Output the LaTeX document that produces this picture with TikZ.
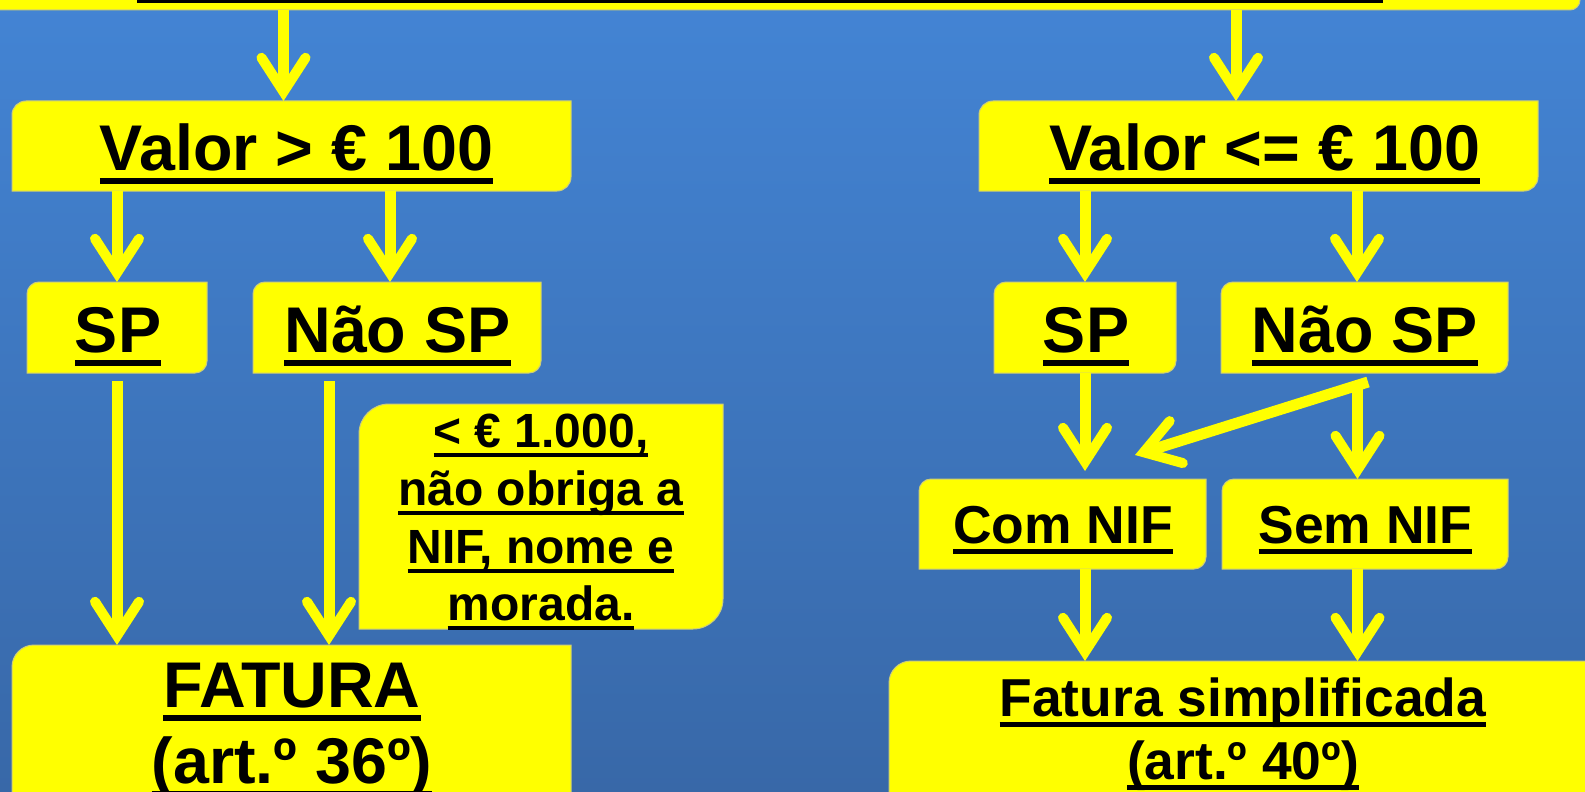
\documentclass[tikz,border=0pt]{standalone}
\usepackage{fontspec}
\setmainfont{Liberation Sans}
\usetikzlibrary{arrows.meta}
\definecolor{bgtop}{RGB}{67,132,212}
\definecolor{bgbot}{RGB}{56,104,168}
\definecolor{boxy}{RGB}{255,255,0}
\definecolor{edgec}{RGB}{205,205,120}
\newsavebox\ulbox
\newcommand\ulx[1]{\sbox\ulbox{#1}\rlap{\rule[-0.21em]{\wd\ulbox}{0.09em}}\usebox\ulbox}
\newcommand\diagfill[2]{\path[boxfill] (#1.south west) -- ([yshift=-#2]#1.north west) arc[start angle=180,end angle=90,radius=#2] -- (#1.north east) -- ([yshift=#2]#1.south east) arc[start angle=0,end angle=-90,radius=#2] -- cycle;}
\begin{document}
\begin{tikzpicture}[x=0.5pt,y=-0.5pt,
 boxn/.style={rectangle, inner sep=0pt, outer sep=0pt},
 boxfill/.style={fill=boxy, draw=edgec, line width=0.5pt},
 lbl/.style={inner sep=0pt, anchor=base, text=black, font=\bfseries\fontsize{32.3}{38}\selectfont},
 lblm/.style={lbl, font=\bfseries\fontsize{26.7}{32}\selectfont},
 lbls/.style={lbl, font=\bfseries\fontsize{24}{29}\selectfont},
 arr/.style={draw=boxy, line width=5.5pt, -{Straight Barb[length=17pt,width=22pt,line width=5pt,line cap=round,line join=miter]}},
]
\useasboundingbox (0,0) rectangle (1585,792);
\fill[top color=bgtop, bottom color=bgbot] (0,0) rectangle (1585,792);

% boxes
\node[boxn, minimum width=795pt, minimum height=35pt] (top) at (785,-25) {};
\diagfill{top}{5pt}
\fill[black] (137,-10) rectangle (1383,3);

\node[boxn, minimum width=279.5pt, minimum height=45pt] (valL) at (291.5,146) {};
\diagfill{valL}{7pt}
\node[boxn, minimum width=279.5pt, minimum height=45pt] (valR) at (1258.5,146) {};
\diagfill{valR}{7pt}

\node[boxn, minimum width=90pt, minimum height=45.5pt] (spL) at (117,327.5) {};
\diagfill{spL}{6pt}
\node[boxn, minimum width=144pt, minimum height=45.5pt] (nspL) at (397,327.5) {};
\diagfill{nspL}{6pt}
\node[boxn, minimum width=91pt, minimum height=45.5pt] (spR) at (1085,327.5) {};
\diagfill{spR}{6pt}
\node[boxn, minimum width=143.5pt, minimum height=45.5pt] (nspR) at (1364.5,327.5) {};
\diagfill{nspR}{6pt}

\node[boxn, minimum width=182pt, minimum height=112.5pt] (note) at (541,516.5) {};
\diagfill{note}{15pt}

\node[boxn, minimum width=279.5pt, minimum height=92.5pt] (fat) at (291.5,737.5) {};
\diagfill{fat}{11pt}

\node[boxn, minimum width=143.5pt, minimum height=45pt] (comnif) at (1062.5,524) {};
\diagfill{comnif}{6pt}
\node[boxn, minimum width=143pt, minimum height=45pt] (semnif) at (1365,524) {};
\diagfill{semnif}{6pt}

\node[boxn, minimum width=353.5pt, minimum height=84.5pt] (fats) at (1242.5,745.5) {};
\diagfill{fats}{11pt}

% texts
\node[lbl] (tvalL) at (296.5,170) {\ulx{Valor > € 100}};
\node[lbl] (tvalR) at (1264.5,170) {\ulx{Valor <= € 100}};
\node[lbl] (tspL) at (118,352) {\ulx{SP}};
\node[lbl] (tnspL) at (397.5,352) {\ulx{Não SP}};
\node[lbl] (tspR) at (1086,352) {\ulx{SP}};
\node[lbl] (tnspR) at (1365,352) {\ulx{Não SP}};
\node[lblm] (tcom) at (1063,543) {\ulx{Com NIF}};
\node[lblm] (tsem) at (1365.5,543) {\ulx{Sem NIF}};
\node[lbls] (tn1) at (541,447) {\ulx{< € 1.000,}};
\node[lbls] (tn2) at (541,505) {\ulx{não obriga a}};
\node[lbls] (tn3) at (541,563) {\ulx{NIF, nome e}};
\node[lbls] (tn4) at (541,620) {\ulx{morada.}};
\node[lbl] (tfat1) at (292,707) {\ulx{FATURA}};
\node[lbl] (tfat2) at (292,783) {\ulx{(art.º 36º)}};
\node[lblm] (tfs1) at (1243,716) {\ulx{Fatura simplificada}};
\node[lblm] (tfs2) at (1243,779) {\ulx{(art.º 40º)}};

% connectors
\coordinate (a1) at ([xshift=-4pt]valL.north);
\draw[arr] (a1 |- top.south) -- (a1);
\coordinate (a2) at ([xshift=-11.25pt]valR.north);
\draw[arr] (a2 |- top.south) -- (a2);

\draw[arr] (valL.south -| spL.north) -- (spL.north);
\coordinate (a3) at ([xshift=-3.5pt]nspL.north);
\draw[arr] (a3 |- valL.south) -- (a3);
\draw[arr] (valR.south -| spR.north) -- (spR.north);
\coordinate (a4) at ([xshift=-3.75pt]nspR.north);
\draw[arr] (a4 |- valR.south) -- (a4);

\coordinate (b1) at ([yshift=-4pt]spL.south);
\draw[arr] (b1) -- (b1 |- fat.north);
\coordinate (b2) at ([xshift=-34pt,yshift=-4pt]nspL.south);
\draw[arr] (b2) -- (b2 |- fat.north);

\coordinate (c1) at ([yshift=4pt]spR.south |- comnif.north);
\draw[arr] (spR.south) -- (c1);
\coordinate (d1) at ([xshift=1.75pt,yshift=-4.5pt]nspR.south);
\coordinate (d2) at ([xshift=36.25pt,yshift=12pt]comnif.north);
\draw[arr] (d1) -- (d2);
\coordinate (s1) at ([xshift=-3.5pt,yshift=-7pt]nspR.south);
\draw[arr] (s1) -- (s1 |- semnif.north);

\coordinate (e1) at ([xshift=11.25pt]comnif.south);
\draw[arr] (e1) -- (e1 |- fats.north);
\coordinate (e2) at ([xshift=-3.75pt]semnif.south);
\draw[arr] (e2) -- (e2 |- fats.north);
\end{tikzpicture}
\end{document}
